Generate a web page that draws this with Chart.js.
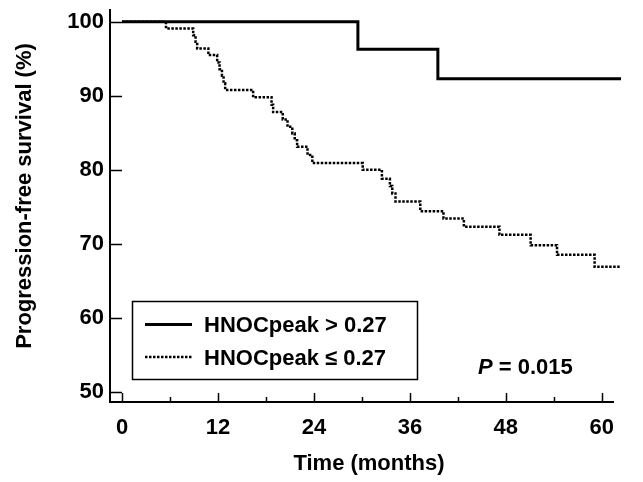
<!doctype html>
<html lang="en">
  <head>
    <meta charset="utf-8">
    <title>Progression-free survival</title>
    <script src="https://cdn.jsdelivr.net/npm/chart.js"></script>
    <style>
      body { margin: 0; background: #fff; }
      #wrap { width: 643px; height: 482px; }
    </style>
  </head>
  <body>
    <div id="wrap"><canvas id="kmChart"></canvas></div>
    <script>
      // time (months) / survival (%) at each step of the two curves
      let highX = [0, 29.5, 39.5, 62.4];
      let highY = [100, 96.3, 92.3, 92.3];
      let lowX = [0, 5.5, 8.9, 9.2, 9.4, 10.8, 11.9, 12.2, 12.5, 12.7, 12.9, 16.4, 18.7, 18.9, 20.1,
                  20.7, 21.3, 21.6, 21.9, 23.2, 23.8, 30.1, 32.5, 33.5, 33.8, 34.2, 37.3, 40.2, 42.75,
                  47.2, 51.1, 54.4, 59.1, 62.4];
      let lowY = [100, 99.1, 98.2, 97.3, 96.4, 95.5, 94.5, 93.6, 92.7, 91.7, 90.8, 89.8, 88.8, 87.8, 86.8,
                  85.8, 84.9, 84.0, 83.1, 82.0, 80.9, 80.0, 78.8, 77.8, 76.8, 75.7, 74.4, 73.4, 72.3,
                  71.2, 69.8, 68.5, 66.9, 66.9];
      let seriesNames = ['HNOCpeak > 0.27', 'HNOCpeak \u2264 0.27'];
      let xTicks = [0, 12, 24, 36, 48, 60];
      let xMinorTicks = [6, 18, 30, 42, 54];
      let yTicks = [50, 60, 70, 80, 90, 100];
      let pText = '0.015';

      const FONT = "'Liberation Sans', Arial, sans-serif";
      const ink = '#000';

      function toPoints(xs, ys) {
        return xs.map(function(x, i) { return {x: x, y: ys[i]}; });
      }

      // ticks, titles, legend box and p value
      const extras = {
        id: 'extras',
        afterDraw: function(chart) {
          const ctx = chart.ctx;
          const xs = chart.scales.x, ys = chart.scales.y;
          const area = chart.chartArea;
          ctx.save();
          ctx.strokeStyle = ink;
          ctx.fillStyle = ink;
          ctx.lineWidth = 1.5;
          ctx.beginPath();
          yTicks.forEach(function(v) {
            const py = Math.round(ys.getPixelForValue(v)) + 0.5;
            ctx.moveTo(area.left, py); ctx.lineTo(area.left + 12, py);
          });
          xTicks.forEach(function(v) {
            const px = Math.round(xs.getPixelForValue(v)) + 0.5;
            ctx.moveTo(px, area.bottom); ctx.lineTo(px, area.bottom - 9);
          });
          xMinorTicks.forEach(function(v) {
            const px = Math.round(xs.getPixelForValue(v)) + 0.5;
            ctx.moveTo(px, area.bottom); ctx.lineTo(px, area.bottom - 5);
          });
          ctx.stroke();

          // axis titles
          ctx.font = 'bold 22px ' + FONT;
          ctx.textAlign = 'center';
          ctx.textBaseline = 'middle';
          ctx.fillText('Time (months)', 369, 464);
          ctx.save();
          ctx.translate(25, 196);
          ctx.rotate(-Math.PI / 2);
          ctx.fillText('Progression-free survival (%)', 0, 0);
          ctx.restore();

          // legend
          ctx.fillStyle = '#fff';
          ctx.fillRect(132.5, 301.5, 285, 78);
          ctx.lineWidth = 1.5;
          ctx.strokeRect(132.5, 301.5, 285, 78);
          const ds = chart.data.datasets;
          const rows = [324.5, 357];
          ds.forEach(function(d, i) {
            ctx.beginPath();
            ctx.lineWidth = d.borderWidth;
            ctx.setLineDash(d.borderDash || []);
            ctx.moveTo(145, rows[i]); ctx.lineTo(192, rows[i]);
            ctx.stroke();
            ctx.setLineDash([]);
            ctx.fillStyle = ink;
            ctx.textAlign = 'left';
            ctx.fillText(d.label, 204, rows[i] + 1.5);
          });

          // p value
          ctx.font = 'italic bold 22px ' + FONT;
          ctx.fillText('P', 478, 368);
          const pw = ctx.measureText('P').width;
          ctx.font = 'bold 22px ' + FONT;
          ctx.fillText(' = ' + pText, 478 + pw, 368);
          ctx.restore();
        }
      };

      const config = {
        type: 'line',
        data: {
          datasets: [{
            label: seriesNames[0],
            data: toPoints(highX, highY),
            borderColor: ink,
            borderWidth: 3,
            stepped: 'before',
            pointRadius: 0,
            clip: false
          }, {
            label: seriesNames[1],
            data: toPoints(lowX, lowY),
            borderColor: ink,
            borderWidth: 2.5,
            borderDash: [2.5, 1.5],
            stepped: 'before',
            pointRadius: 0,
            clip: false
          }]
        },
        options: {
          responsive: true,
          maintainAspectRatio: false,
          animation: false,
          layout: { padding: { left: 0, right: 30, top: 10, bottom: 0 } },
          scales: {
            x: {
              type: 'linear',
              min: -1.5,
              max: 61.4,
              afterFit: function(s) { s.height = 80; s.paddingLeft = 0; s.paddingRight = 0; },
              afterBuildTicks: function(s) { s.ticks = xTicks.map(function(v) { return {value: v}; }); },
              grid: { display: false, drawTicks: false },
              border: { display: true, color: ink, width: 2 },
              ticks: { color: ink, padding: 13, maxRotation: 0, font: { family: FONT, size: 22, weight: 'bold' } }
            },
            y: {
              min: 48.6,
              max: 101.6,
              afterFit: function(s) { s.width = 110; s.paddingTop = 0; s.paddingBottom = 0; },
              afterBuildTicks: function(s) { s.ticks = yTicks.map(function(v) { return {value: v}; }); },
              grid: { display: false, drawTicks: false },
              border: { display: true, color: ink, width: 2 },
              ticks: { color: ink, padding: 6, font: { family: FONT, size: 22, weight: 'bold' } }
            }
          },
          plugins: {
            legend: { display: false },
            tooltip: { enabled: false }
          }
        },
        plugins: [extras]
      };

      const ctx = document.getElementById('kmChart').getContext('2d');
      const myChart = new Chart(ctx, config);
    </script>
  </body>
</html>
